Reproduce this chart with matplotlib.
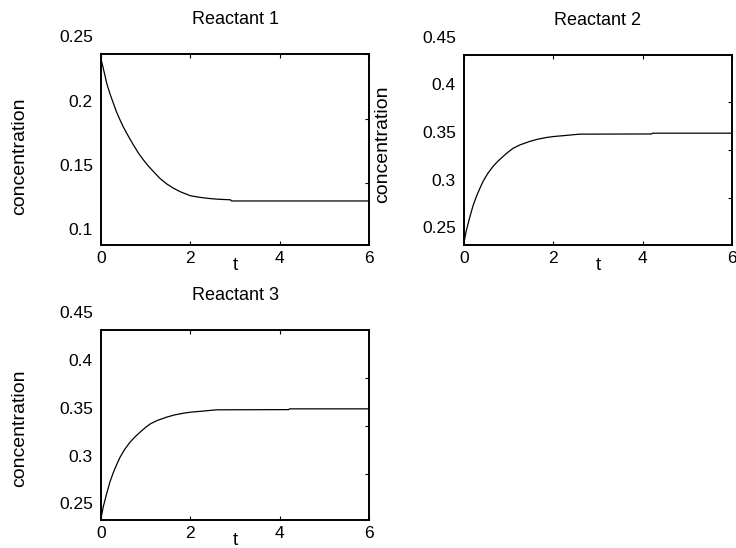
import matplotlib
matplotlib.use("Agg")
import matplotlib.pyplot as plt

plt.rcParams["font.family"] = ["Liberation Sans", "DejaVu Sans"]

# ── Data ──────────────────────────────────────────────────
t_r1 = [0.0, 0.05, 0.128, 0.2, 0.277, 0.35, 0.427, 0.5, 0.577, 0.65,
        0.727, 0.84, 0.951, 1.06, 1.176, 1.32, 1.476, 1.62, 1.775, 2.0,
        2.2, 2.375, 2.6, 2.9, 2.92, 6.0]
c_r1 = [0.2335, 0.2265, 0.2146, 0.2065, 0.1990, 0.1920, 0.1859, 0.1805,
        0.1755, 0.1710, 0.1664, 0.1600, 0.1547, 0.1500, 0.1456, 0.1403,
        0.1359, 0.1327, 0.1299, 0.1268, 0.1256, 0.1248, 0.1241, 0.1236,
        0.1227, 0.1227]

t_r2 = [0.0, 0.05, 0.128, 0.2, 0.277, 0.35, 0.426, 0.53, 0.65, 0.76,
        0.875, 1.0, 1.1, 1.25, 1.473, 1.65, 1.85, 2.0, 2.22, 2.59, 4.2,
        4.22, 6.0]
c_r2 = [0.236, 0.248, 0.262, 0.274, 0.284, 0.292, 0.2998, 0.308, 0.3155,
        0.321, 0.326, 0.331, 0.3345, 0.338, 0.3417, 0.344, 0.3458, 0.3468,
        0.3477, 0.3493, 0.3495, 0.3503, 0.3503]

t_r3 = [0.0, 0.05, 0.128, 0.2, 0.277, 0.35, 0.426, 0.53, 0.65, 0.76,
        0.875, 1.0, 1.1, 1.25, 1.473, 1.65, 1.85, 2.0, 2.22, 2.59, 4.2,
        4.22, 6.0]
c_r3 = [0.236, 0.248, 0.262, 0.274, 0.284, 0.292, 0.2998, 0.308, 0.3155,
        0.321, 0.326, 0.331, 0.3345, 0.338, 0.3417, 0.344, 0.3458, 0.3468,
        0.3477, 0.3493, 0.3495, 0.3503, 0.3503]

titles = ["Reactant 1", "Reactant 2", "Reactant 3"]
x_ticks = [0, 2, 4, 6]
y_ticks_r1 = [0.1, 0.15, 0.2, 0.25]
y_ticks_r23 = [0.25, 0.3, 0.35, 0.4, 0.45]

W, H = 736, 548


def rect(left, top, right, bottom):
    return [left / W, 1 - bottom / H, (right - left) / W, (bottom - top) / H]


def draw_panel(ax, t, c, title, ylim, yticks, ylab_y):
    ax.plot(t, c, color="black", lw=0.9)
    ax.set_xlim(0, 6)
    ax.set_ylim(*ylim)
    for s in ax.spines.values():
        s.set_linewidth(1.4)

    ax.set_xticks(x_ticks)
    ax.set_xticklabels([str(v) for v in x_ticks])
    ax.tick_params(axis="x", direction="in", length=3, width=0.8, pad=4,
                   labelsize=12.5, top=True, bottom=True)

    # the reference draws the y tick marks ~16 px below their labels
    bbox = ax.get_position()
    px_per_unit = bbox.height * H / (ylim[1] - ylim[0])
    shift = 16.5 / px_per_unit
    marks = [v - shift for v in yticks if ylim[0] < v - shift < ylim[1]]
    ax.set_yticks(marks)
    ax.set_yticklabels([])
    ax.tick_params(axis="y", direction="in", length=3, width=0.8,
                   left=False, right=True)
    for v in yticks:
        ax.text(-0.03, v, f"{v:g}", transform=ax.get_yaxis_transform(),
                ha="right", va="center", fontsize=12.5, clip_on=False)

    ax.set_title(title, fontsize=13, pad=21.5)
    ax.set_xlabel("t", fontsize=13.5, va="baseline")
    ax.xaxis.set_label_coords(0.5, -0.132)
    ax.set_ylabel("concentration", fontsize=14, va="center")
    ax.yaxis.set_label_coords(-0.302, ylab_y)


fig = plt.figure(figsize=(W / 100, H / 100), dpi=100)
ax1 = fig.add_axes(rect(101, 54, 369, 245))
ax2 = fig.add_axes(rect(464, 55, 732, 245))
ax3 = fig.add_axes(rect(101, 330, 369, 520))

draw_panel(ax1, t_r1, c_r1, titles[0], (0.0883, 0.2375), y_ticks_r1, 0.465)
draw_panel(ax2, t_r2, c_r2, titles[1], (0.2332, 0.4322), y_ticks_r23, 0.53)
draw_panel(ax3, t_r3, c_r3, titles[2], (0.2343, 0.4326), y_ticks_r23, 0.485)

fig.savefig("out.png", dpi=100)
